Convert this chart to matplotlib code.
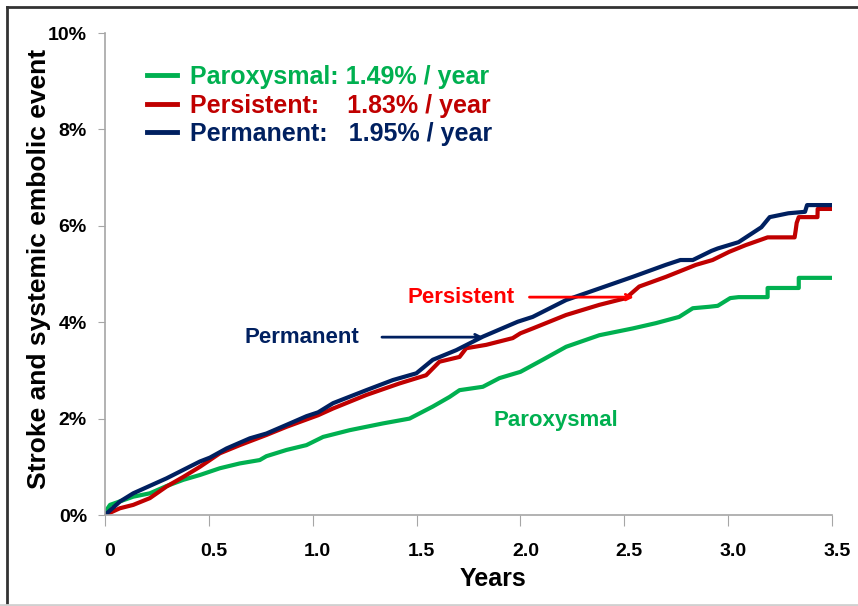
import matplotlib.pyplot as plt
import matplotlib.transforms as mtransforms
from matplotlib.lines import Line2D

plt.rcParams['font.family'] = ['Liberation Sans', 'DejaVu Sans']
plt.rcParams['font.weight'] = 'bold'
plt.rcParams['axes.labelweight'] = 'bold'

# readings (years, % with event)
parox_x = [0, 0.01, 0.024, 0.136, 0.216, 0.296, 0.377, 0.457, 0.553, 0.649, 0.745, 0.777,
           0.874, 0.97, 1.05, 1.178, 1.338, 1.466, 1.578, 1.659, 1.707, 1.819, 1.899, 2.0,
           2.107, 2.22, 2.38, 2.54, 2.652, 2.764, 2.83, 2.909, 2.95, 3.01, 3.05, 3.19, 3.19,
           3.34, 3.34, 3.5]
parox_y = [0, 0.12, 0.21, 0.38, 0.45, 0.6, 0.73, 0.83, 0.97, 1.07, 1.14, 1.22,
           1.35, 1.45, 1.62, 1.76, 1.9, 2.0, 2.25, 2.45, 2.59, 2.66, 2.84, 2.97,
           3.22, 3.49, 3.73, 3.87, 3.98, 4.11, 4.29, 4.32, 4.34, 4.5, 4.52, 4.52, 4.71,
           4.71, 4.92, 4.92]

persist_x = [0, 0.072, 0.136, 0.216, 0.296, 0.377, 0.457, 0.553, 0.649, 0.777, 0.874, 1.026,
             1.098, 1.258, 1.418, 1.546, 1.61, 1.707, 1.739, 1.835, 1.963, 2.0, 2.059, 2.22,
             2.38, 2.508, 2.572, 2.70, 2.764, 2.845, 2.925, 3.005, 3.085, 3.19, 3.32, 3.325,
             3.33, 3.34, 3.43, 3.431, 3.5]
persist_y = [0, 0.14, 0.21, 0.35, 0.59, 0.79, 1.0, 1.28, 1.45, 1.66, 1.83, 2.07,
             2.21, 2.49, 2.73, 2.9, 3.18, 3.28, 3.46, 3.53, 3.67, 3.77, 3.87, 4.15,
             4.36, 4.5, 4.74, 4.94, 5.05, 5.19, 5.29, 5.46, 5.6, 5.76, 5.76, 5.9,
             6.06, 6.18, 6.18, 6.35, 6.35]

perm_x = [0, 0.072, 0.136, 0.296, 0.457, 0.505, 0.585, 0.697, 0.777, 0.874, 0.97, 1.026,
          1.098, 1.258, 1.386, 1.499, 1.53, 1.578, 1.691, 1.819, 1.987, 2.059, 2.22, 2.38,
          2.54, 2.70, 2.77, 2.83, 2.92, 2.95, 3.05, 3.16, 3.2, 3.29, 3.37, 3.38, 3.5]
perm_y = [0, 0.28, 0.45, 0.76, 1.11, 1.19, 1.38, 1.59, 1.69, 1.87, 2.05, 2.13,
          2.32, 2.59, 2.8, 2.94, 3.05, 3.22, 3.42, 3.7, 4.01, 4.11, 4.46, 4.7,
          4.94, 5.19, 5.29, 5.29, 5.48, 5.53, 5.66, 5.97, 6.18, 6.26, 6.29, 6.43, 6.43]

legend_labels = ['Paroxysmal: 1.49% / year', 'Persistent:    1.83% / year',
                 'Permanent:   1.95% / year']
x_ticks = [0, 0.5, 1.0, 1.5, 2.0, 2.5, 3.0, 3.5]
x_ticklabels = ['0', '0.5', '1.0', '1.5', '2.0', '2.5', '3.0', '3.5']
y_ticks = [0, 2, 4, 6, 8, 10]
y_ticklabels = ['0%', '2%', '4%', '6%', '8%', '10%']

green = '#00B050'
red = '#C00000'
navy = '#002060'

fig = plt.figure(figsize=(8.58, 6.06), dpi=100)
ax = fig.add_axes([105 / 858, 1 - 515 / 606, (832 - 105) / 858, (515 - 33) / 606])

l1, = ax.plot(parox_x, parox_y, color=green, lw=3)
l2, = ax.plot(persist_x, persist_y, color=red, lw=3)
l3, = ax.plot(perm_x, perm_y, color=navy, lw=3)

ax.set_xlim(0, 3.5)
ax.set_ylim(0, 10)
ax.set_xticks(x_ticks)
ax.set_xticklabels(x_ticklabels)
ax.set_yticks(y_ticks)
ax.set_yticklabels(y_ticklabels)
ax.tick_params(axis='x', direction='out', length=8, color='#A6A6A6', labelsize=14, pad=12)
ax.tick_params(axis='y', direction='out', length=5, color='#A6A6A6', labelsize=14, pad=8)
# x tick labels sit a little right of their ticks in the original
shift = mtransforms.ScaledTranslation(0.05, 0, fig.dpi_scale_trans)
for lab in ax.get_xticklabels():
    lab.set_transform(lab.get_transform() + shift)
for s in ['top', 'right']:
    ax.spines[s].set_visible(False)
for s in ['left', 'bottom']:
    ax.spines[s].set_color('#A6A6A6')
    ax.spines[s].set_linewidth(1.2)

ax.set_xlabel('Years', fontsize=18)
ax.xaxis.set_label_coords(0.534, -0.108)
ax.set_ylabel('Stroke and systemic embolic event', fontsize=19)
ax.yaxis.set_label_coords(-0.074, 0.51)

leg = ax.legend([l1, l2, l3], legend_labels, loc='upper left',
                bbox_to_anchor=(147 / 858, 1 - 65 / 606), bbox_transform=fig.transFigure,
                frameon=False, fontsize=18, handlelength=1.2, handletextpad=0.5,
                labelspacing=0.18, borderpad=0, borderaxespad=0)
for t, c in zip(leg.get_texts(), [green, red, navy]):
    t.set_color(c)
for h in leg.legend_handles:
    h.set_linewidth(3.5)

# curve annotations
ax.annotate('', xy=(2.56, 4.52), xytext=(2.03, 4.52),
            arrowprops=dict(arrowstyle='->', color='#FF0000', lw=2))
ax.text(1.715, 4.52, 'Persistent', color='#FF0000', fontsize=16, ha='center', va='center')
ax.annotate('', xy=(1.835, 3.69), xytext=(1.32, 3.69),
            arrowprops=dict(arrowstyle='->', color=navy, lw=2))
ax.text(0.947, 3.69, 'Permanent', color=navy, fontsize=16, ha='center', va='center')
ax.text(2.17, 1.97, 'Paroxysmal', color=green, fontsize=16, ha='center', va='center')

# slide frame
fig.add_artist(Line2D([7 / 858, 1], [1 - 7 / 606, 1 - 7 / 606], color='#333333', lw=2))
fig.add_artist(Line2D([7 / 858, 7 / 858], [0, 1 - 7 / 606], color='#333333', lw=2))
fig.add_artist(Line2D([0, 1], [1 / 606, 1 / 606], color='#D0D0D0', lw=2))

fig.savefig('out.png', dpi=100)
